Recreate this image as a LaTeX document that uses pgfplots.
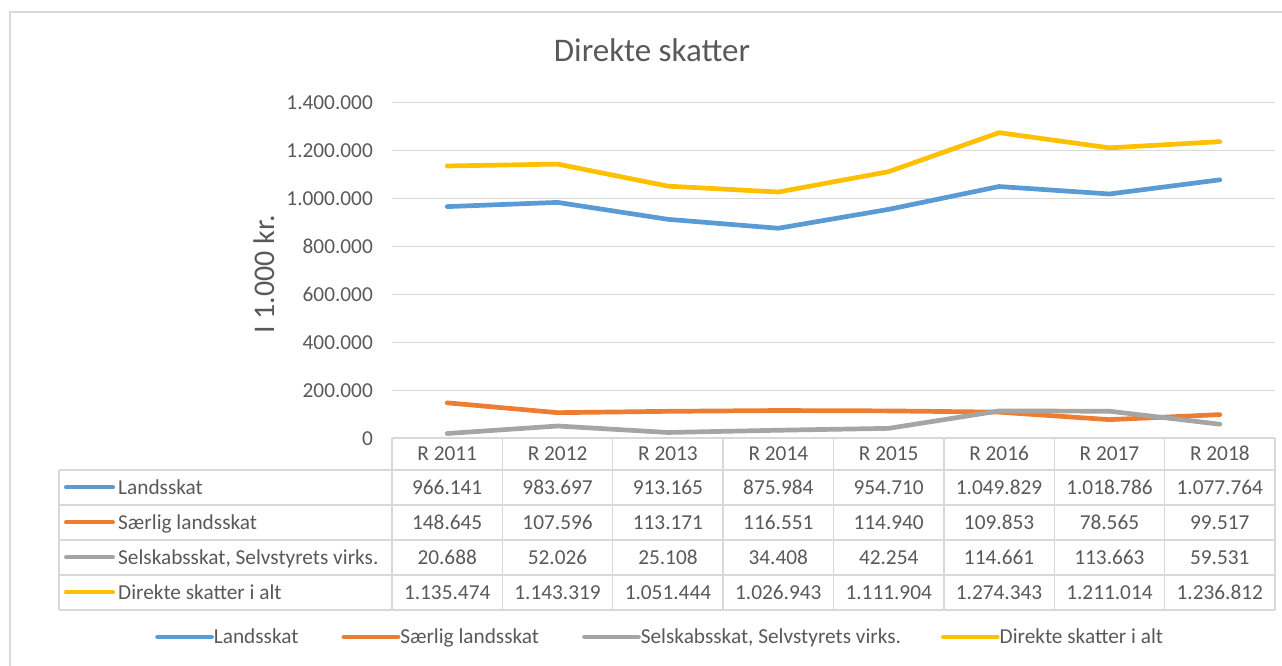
\documentclass[border=0pt]{standalone}
\usepackage{fontspec}
\setmainfont{Carlito}
\usepackage{pgfplots}
\usepackage{pgfplotstable}
\pgfplotsset{compat=1.18}
\definecolor{txt}{HTML}{595959}
\definecolor{gridc}{HTML}{D9D9D9}
\definecolor{sblue}{HTML}{5B9BD5}
\definecolor{sorange}{HTML}{ED7D31}
\definecolor{sgray}{HTML}{A5A5A5}
\definecolor{syellow}{HTML}{FFC000}
\newcommand\tabfont{\fontsize{21.3bp}{25bp}\selectfont}

\pgfplotstableread{
x land saer sels alt
0 966141 148645 20688 1135474
1 983697 107596 52026 1143319
2 913165 113171 25108 1051444
3 875984 116551 34408 1026943
4 954710 114940 42254 1111904
5 1049829 109853 114661 1274343
6 1018786 78565 113663 1211014
7 1077764 99517 59531 1236812
}\datatable

\begin{document}
\begin{tikzpicture}
\begin{scope}[x=1bp,y=1bp]
\path[use as bounding box] (0,0) rectangle (1282,666);
\draw[gridc, line width=1.3bp] (10,-10) -- (10,654) -- (1300,654);
\node[anchor=base, text=txt, font=\fontsize{33bp}{38bp}\selectfont, inner sep=0pt] at (652,604.3) {Direkte skatter};
% table grid
\begin{scope}[gridc, line width=1.3bp]
\draw (392,228) -- (1275,228);
\foreach \yy in {196,161,126,91,56} \draw (59,\yy) -- (1275,\yy);
\draw (59,196) -- (59,56);
\foreach \k in {0,...,8} \draw ({392+110.375*\k},228) -- ({392+110.375*\k},56);
\end{scope}
% row labels
\begin{scope}[line width=4bp, line cap=round]
\draw[sblue] (66,178.5) -- (113,178.5);
\draw[sorange] (66,143.5) -- (113,143.5);
\draw[sgray] (66,108.5) -- (113,108.5);
\draw[syellow] (66,73.5) -- (113,73.5);
\end{scope}
\begin{scope}[every node/.style={anchor=base west, inner sep=0pt, text=txt, font=\tabfont}]
\node at (118,171) {Landsskat};
\node at (118,136) {Særlig landsskat};
\node at (118,101) {Selskabsskat, Selvstyrets virks.};
\node at (118,66) {Direkte skatter i alt};
\end{scope}
\end{scope}

\begin{axis}[
  at={(392bp,227.5bp)}, anchor=south west,
  scale only axis, width=883bp, height=336bp,
  xmin=-0.5, xmax=7.5, ymin=0, ymax=1400000,
  clip=false,
  axis line style={draw=none},
  major tick length=0pt,
  ytick={0,200000,400000,600000,800000,1000000,1200000,1400000},
  scaled y ticks=false,
  /pgf/number format/fixed,
  /pgf/number format/precision=0,
  /pgf/number format/1000 sep={.},
  /pgf/number format/assume math mode=true,
  yticklabel style={font=\tabfont, text=txt, anchor=east, inner sep=0pt, xshift=-19bp},
  xtick={0,...,7},
  xticklabels={R 2011,R 2012,R 2013,R 2014,R 2015,R 2016,R 2017,R 2018},
  xticklabel style={font=\tabfont, text=txt, anchor=base, inner sep=0pt, yshift=-22.5bp},
  ymajorgrids,
  grid style={gridc, line width=1.3bp},
  ylabel={I 1.000 kr.},
  ylabel style={at={(axis description cs:-0.145,0.488)}, anchor=center, font=\fontsize{30bp}{34bp}\selectfont, text=txt},
  legend columns=4,
  legend style={at={(axis description cs:-0.2684,-0.5908)}, anchor=west, draw=none, fill=none,
    font=\tabfont, text=txt, inner sep=0pt, column sep=0pt,
    nodes={inner sep=0pt}},
  legend image code/.code={\draw[#1, line width=4.5bp, line cap=round] (2.25bp,0bp) -- (46.75bp,0bp); \path (0bp,0bp) -- (54bp,0bp);},
  every axis plot/.append style={line width=4.7bp, line join=round, line cap=round},
]
\addplot[sblue] table[x=x,y=land]{\datatable};
\addlegendentry{Landsskat\hspace*{43bp}}
\addplot[sorange] table[x=x,y=saer]{\datatable};
\addlegendentry{Særlig landsskat\hspace*{43bp}}
\addplot[sgray] table[x=x,y=sels]{\datatable};
\addlegendentry{Selskabsskat, Selvstyrets virks.\hspace*{40bp}}
\addplot[syellow] table[x=x,y=alt]{\datatable};
\addlegendentry{Direkte skatter i alt}

\pgfplotsset{tabrow/.style={forget plot, draw=none, nodes near coords,
  nodes near coords style={font=\tabfont, text=txt, anchor=base, inner sep=0pt, yshift=#1}}}
\addplot[tabrow=-56.5bp, point meta=\thisrow{land}] table[x=x,y expr=0]{\datatable};
\addplot[tabrow=-91.5bp, point meta=\thisrow{saer}] table[x=x,y expr=0]{\datatable};
\addplot[tabrow=-126.5bp, point meta=\thisrow{sels}] table[x=x,y expr=0]{\datatable};
\addplot[tabrow=-161.5bp, point meta=\thisrow{alt}] table[x=x,y expr=0]{\datatable};
\end{axis}
\end{tikzpicture}
\end{document}
